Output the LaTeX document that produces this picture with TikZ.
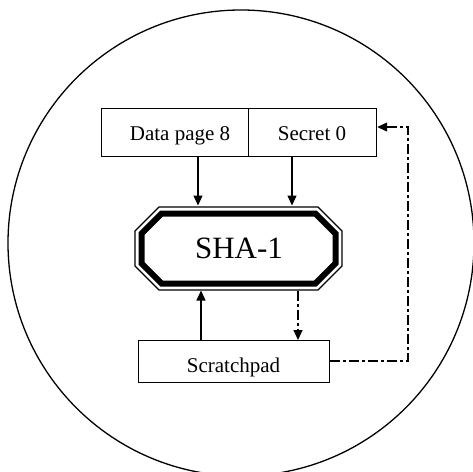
\documentclass[tikz,border=0pt]{standalone}
\usepackage{fontspec}
\setmainfont{Liberation Serif}
\usetikzlibrary{arrows.meta}
\begin{document}
\begin{tikzpicture}[x=1pt,y=-1pt,
  boxline/.style={line width=1.2pt},
  tip/.style={-{Triangle[length=10pt,width=9pt]}},
  dashdot/.style={line width=1.2pt,dash pattern=on 10pt off 3pt on 3pt off 3pt},
  lbl/.style={font=\fontsize{21}{21}\selectfont,anchor=base,inner sep=0pt}]
\useasboundingbox (0,0) rectangle (473,471);
\node[draw,circle,line width=1.3pt,minimum size=466pt,inner sep=0pt] (ring) at (241,243) {};
% top boxes
\node[draw,boxline,minimum width=147pt,minimum height=48pt,inner sep=0pt,anchor=north west] (data) at (101,108) {};
\node[draw,boxline,minimum width=128pt,minimum height=48pt,inner sep=0pt,anchor=north west] (secret) at (248,108) {};
\node[lbl] (datat) at (180,140) {Data page 8};
\node[lbl] (secrett) at (312,140) {Secret 0};
% SHA-1 octagon
\node[minimum width=207pt,minimum height=83pt,inner sep=0pt,outer sep=0pt] (sha) at (238.5,248.5) {};
\draw[line width=1.2pt] (159,207) -- (318,207) -- (342,231) -- (342,266) -- (318,290)
  -- (159,290) -- (135,266) -- (135,231) -- cycle;
\draw[line width=6pt] (161.7,213.5) -- (315.3,213.5) -- (335.5,233.7) -- (335.5,263.3) -- (315.3,283.5)
  -- (161.7,283.5) -- (141.5,263.3) -- (141.5,233.7) -- cycle;
\node[font=\fontsize{31}{31}\selectfont,anchor=base,inner sep=0pt] (shat) at (239,258) {SHA-1};
% scratchpad
\node[draw,boxline,minimum width=191pt,minimum height=42pt,inner sep=0pt,anchor=north west] (scr) at (138,340) {};
\node[lbl] (scrt) at (233.5,372) {Scratchpad};
% arrows
\draw[boxline,tip] (data.south -| 198,0) -- (198,205.5);
\draw[boxline,tip] (secret.south -| 292,0) -- (292,205.5);
\draw[boxline,tip] (scr.north -| 201,0) -- (201,290.5);
\draw[dashdot,tip] (298,290.5) -- (scr.north -| 298,0);
\coordinate (c1) at (408,361);
\coordinate (c2) at (408,127);
\draw[dashdot,tip] (scr.east |- c1) -- (c1) -- (c2) -- (secret.east |- c2);
\end{tikzpicture}
\end{document}
